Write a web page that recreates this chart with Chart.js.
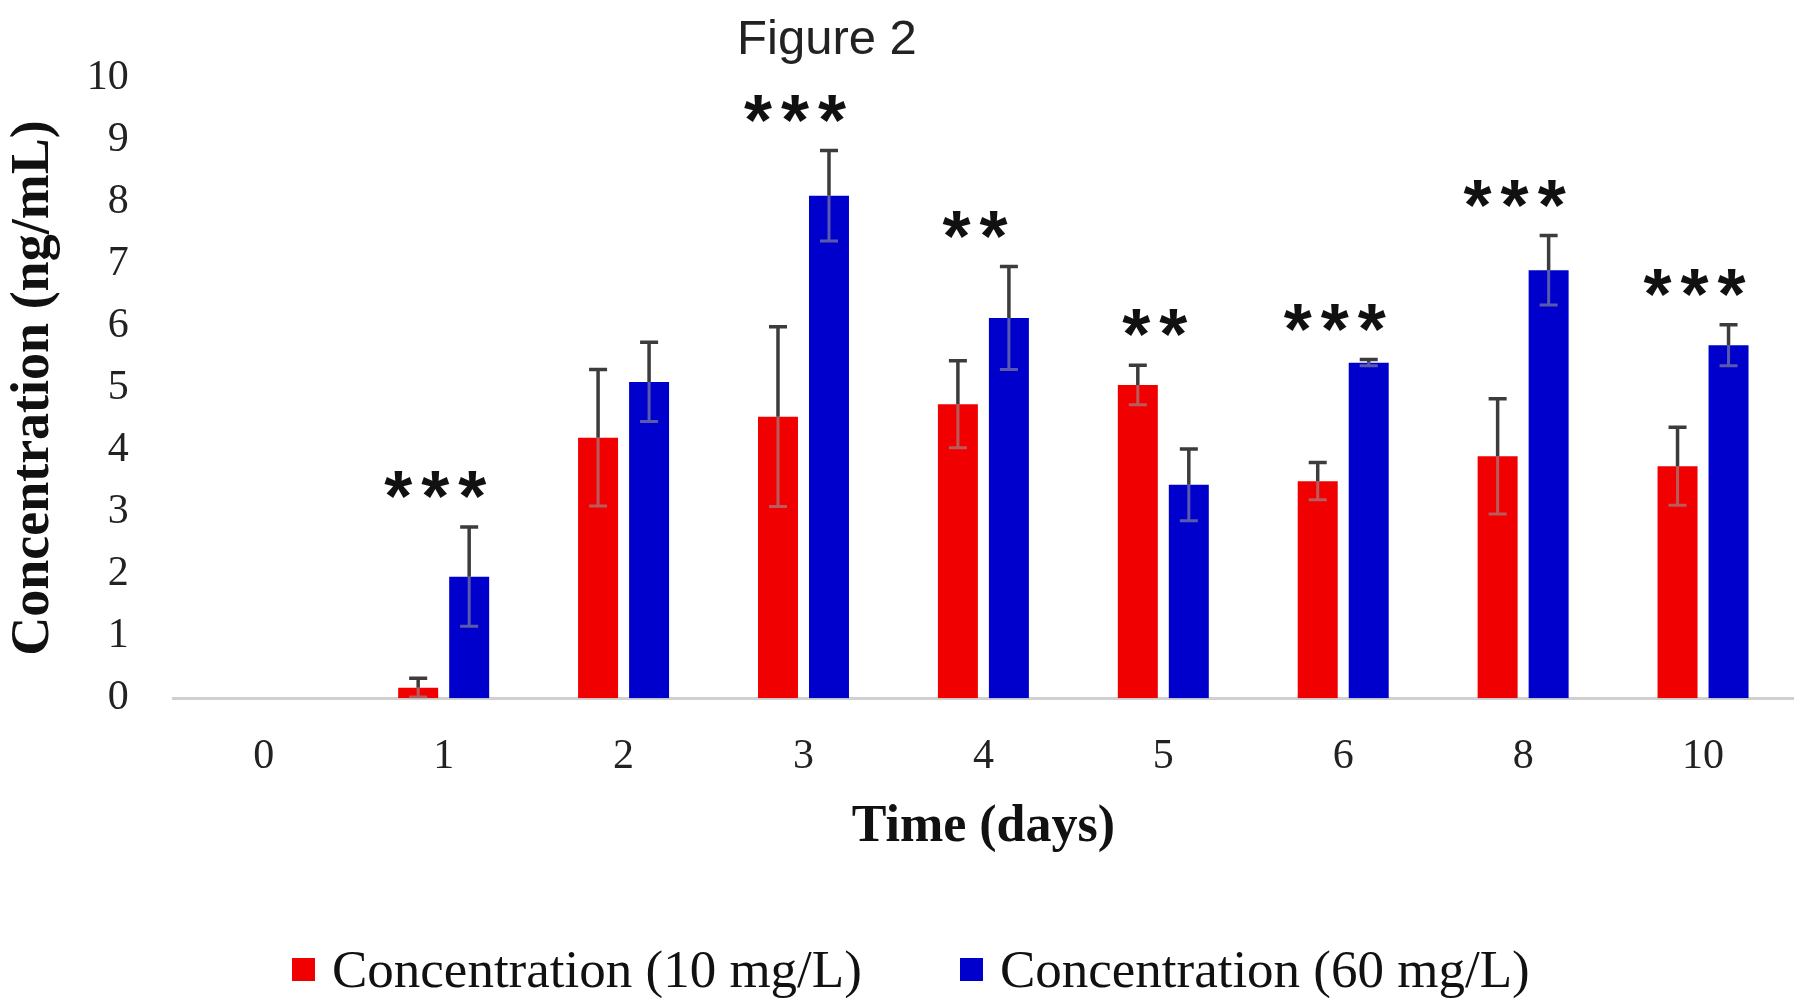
<!DOCTYPE html>
<html>
<head>
<meta charset="utf-8">
<script src="https://cdn.jsdelivr.net/npm/chart.js@4.4.1/dist/chart.umd.min.js"></script>
<style>
  body { margin: 0; background: #fff; }
  #wrap { position: relative; width: 1797px; height: 1005px; background: #fff; overflow: hidden; }
  #title { position: absolute; left: 0; width: 1654px; top: 9px; text-align: center;
           font: 49px "Liberation Sans", Arial, sans-serif; color: #222; line-height: 56px; }
  #legend { position: absolute; left: 292px; top: 937px; display: flex; gap: 98px;
            font: 53px "Liberation Serif", "Times New Roman", serif; color: #111; line-height: 64px; }
  .item { display: flex; align-items: center; }
  .box { width: 23px; height: 23px; margin-right: 17px; }
</style>
</head>
<body>
<div id="wrap">
  <canvas id="myChart" width="1797" height="935"></canvas>
  <div id="title">Figure 2</div>
  <div id="legend"></div>
</div>
<script>
// data
const days = ['0', '1', '2', '3', '4', '5', '6', '8', '10'];
const conc10 = [0, 0.17, 4.2, 4.54, 4.74, 5.05, 3.5, 3.9, 3.74];
const err10 = [0, 0.15, 1.1, 1.45, 0.7, 0.32, 0.3, 0.93, 0.63];
const conc60 = [0, 1.96, 5.1, 8.1, 6.13, 3.44, 5.41, 6.9, 5.69];
const err60 = [0, 0.8, 0.64, 0.73, 0.83, 0.58, 0.05, 0.56, 0.33];
const stars = ['', '***', '', '***', '**', '**', '***', '***', '***'];

const labels10 = 'Concentration (10 mg/L)';
const labels60 = 'Concentration (60 mg/L)';
const red = '#f00000';
const blue = '#0000cd';

// error bars + significance marks
const extras = {
  id: 'extras',
  afterDatasetsDraw(chart) {
    const ctx = chart.ctx;
    const y = chart.scales.y;
    const errs = [err10, err60];
    const tops = [];
    ctx.save();
    chart.data.datasets.forEach(function(ds, i) {
      const meta = chart.getDatasetMeta(i);
      meta.data.forEach(function(bar, j) {
        const v = ds.data[j], e = errs[i][j];
        if (!e) return;
        const yt = y.getPixelForValue(v + e);
        const yv = y.getPixelForValue(v);
        const yb = y.getPixelForValue(Math.max(v - e, 0));
        tops[j] = Math.min(tops[j] || 9999, yt);
        ctx.lineWidth = 3;
        // lower half sits on the bar, looks faded
        ctx.strokeStyle = 'rgba(150,150,150,0.6)';
        ctx.beginPath();
        ctx.moveTo(bar.x, yv); ctx.lineTo(bar.x, yb);
        ctx.moveTo(bar.x - 9, yb); ctx.lineTo(bar.x + 9, yb);
        ctx.stroke();
        ctx.strokeStyle = '#3c3c3c';
        ctx.lineWidth = 3.5;
        ctx.beginPath();
        ctx.moveTo(bar.x, yv); ctx.lineTo(bar.x, yt);
        ctx.moveTo(bar.x - 9, yt); ctx.lineTo(bar.x + 9, yt);
        ctx.stroke();
      });
    });
    const x = chart.scales.x;
    ctx.fillStyle = '#111';
    ctx.font = 'bold 72px "Liberation Sans", Arial, sans-serif';
    ctx.letterSpacing = '9px';
    ctx.textAlign = 'center';
    ctx.textBaseline = 'alphabetic';
    stars.forEach(function(s, j) {
      if (!s) return;
      // star glyph sits high in the em box
      ctx.fillText(s, x.getPixelForValue(j) - 4, tops[j] - 50 + 44);
    });
    ctx.restore();
  }
};

var ctx = document.getElementById('myChart').getContext('2d');
window.myChart = new Chart(ctx, {
  type: 'bar',
  data: {
    labels: days,
    datasets: [
      { label: labels10, data: conc10, backgroundColor: red, borderWidth: 0,
        categoryPercentage: 0.567, barPercentage: 0.784 },
      { label: labels60, data: conc60, backgroundColor: blue, borderWidth: 0,
        categoryPercentage: 0.567, barPercentage: 0.784 }
    ]
  },
  options: {
    responsive: false,
    animation: false,
    layout: { padding: { top: 78, right: 4, bottom: 76, left: 0 } },
    plugins: {
      legend: { display: false },
      title: { display: false },
      tooltip: { enabled: false }
    },
    scales: {
      x: {
        grid: { display: false, drawTicks: false },
        border: { color: '#d0d0d0', width: 3 },
        ticks: { color: '#222', padding: 34,
                 font: { family: '"Liberation Serif", "Times New Roman", serif', size: 42 } },
        title: { display: true, text: 'Time (days)', color: '#111',
                 padding: { top: -20, bottom: 0 },
                 font: { family: '"Liberation Serif", "Times New Roman", serif', size: 52, weight: 'bold' } }
      },
      y: {
        min: 0, max: 10,
        grid: { display: false, drawTicks: false },
        border: { display: false },
        ticks: { stepSize: 1, color: '#222', padding: 45,
                 font: { family: '"Liberation Serif", "Times New Roman", serif', size: 42 } },
        title: { display: true, text: 'Concentration (ng/mL)', color: '#111',
                 padding: { top: 2, bottom: -25 },
                 font: { family: '"Liberation Serif", "Times New Roman", serif', size: 54, weight: 'bold' } }
      }
    }
  },
  plugins: [extras]
});

// legend under the chart
var leg = document.getElementById('legend');
window.myChart.data.datasets.forEach(function(ds) {
  var item = document.createElement('div');
  item.className = 'item';
  var box = document.createElement('span');
  box.className = 'box';
  box.style.background = ds.backgroundColor;
  var txt = document.createElement('span');
  txt.textContent = ds.label;
  item.appendChild(box);
  item.appendChild(txt);
  leg.appendChild(item);
});
</script>
</body>
</html>
